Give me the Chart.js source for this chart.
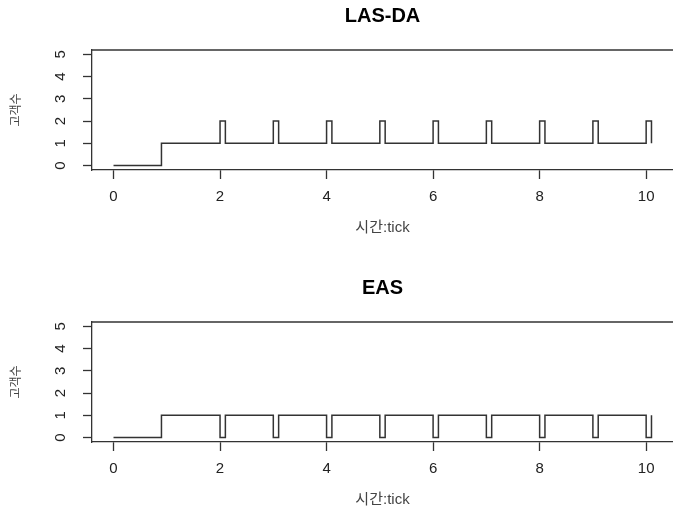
<!DOCTYPE html>
<html>
<head>
<meta charset="utf-8">
<script src="https://cdn.jsdelivr.net/npm/chart.js"></script>
<style>
  body { margin: 0; background: #fff; }
  .plot { position: absolute; left: 0; width: 673px; height: 240px; }
</style>
</head>
<body>
<div class="plot" style="top:0"><canvas id="lasda" width="673" height="240"></canvas></div>
<div class="plot" style="top:272px"><canvas id="eas" width="673" height="240"></canvas></div>
<script>
// time (tick) at which the count changes
var timeTicks = [0, 0.9, 2.0, 2.1, 3.0, 3.1, 4.0, 4.1, 5.0, 5.1, 6.0, 6.1, 7.0, 7.1, 8.0, 8.1, 9.0, 9.1, 10.0, 10.1];
var lasdaCount = [0, 1, 2, 1, 2, 1, 2, 1, 2, 1, 2, 1, 2, 1, 2, 1, 2, 1, 2, 1];
var easCount   = [0, 1, 0, 1, 0, 1, 0, 1, 0, 1, 0, 1, 0, 1, 0, 1, 0, 1, 0, 1];
var xTicks = [0, 2, 4, 6, 8, 10];
var yTicks = [0, 1, 2, 3, 4, 5];

var ink = '#333';
var fontFamily = '"Liberation Sans", Arial, "Noto Sans CJK KR", sans-serif';

// R draws a box round the plot; the axes give left and bottom, this gives the top
var topLine = {
    id: 'topLine',
    afterDraw: function (chart) {
        var a = chart.chartArea, ctx = chart.ctx;
        ctx.save();
        ctx.strokeStyle = ink;
        ctx.lineWidth = 1.3;
        ctx.beginPath();
        ctx.moveTo(a.left, a.top);
        ctx.lineTo(a.right, a.top);
        ctx.stroke();
        ctx.restore();
    }
};

function makePlot(id, title, counts) {
    var pts = timeTicks.map(function (t, i) { return { x: t, y: counts[i] }; });

    return new Chart(document.getElementById(id), {
        type: 'line',
        data: {
            datasets: [{
                data: pts,
                borderColor: ink,
                borderWidth: 1.5,
                pointRadius: 0,
                stepped: 'before',
                fill: false
            }]
        },
        options: {
            animation: false,
            responsive: false,
            layout: { padding: { left: 0, right: -6, top: 0, bottom: 0 } },
            plugins: {
                legend: { display: false },
                tooltip: { enabled: false },
                title: {
                    display: true,
                    text: title,
                    fullSize: false,
                    color: '#000',
                    font: { family: fontFamily, size: 20, weight: 'bold' },
                    padding: { top: 4, bottom: 22 }
                }
            },
            scales: {
                x: {
                    type: 'linear',
                    min: -0.404,
                    max: 10.504,
                    afterBuildTicks: function (s) { s.ticks = xTicks.map(function (v) { return { value: v }; }); },
                    afterFit: function (s) { s.height = 70; },
                    grid: { drawOnChartArea: false, tickLength: 9, tickColor: ink, tickWidth: 1.3 },
                    border: { color: ink, width: 1.3 },
                    ticks: {
                        maxRotation: 0,
                        padding: 8.8,
                        color: '#222',
                        font: { family: fontFamily, size: 15 }
                    },
                    title: {
                        display: true,
                        text: '시간:tick',
                        color: '#444',
                        font: { family: fontFamily, size: 15 },
                        padding: { top: 0, bottom: 3 }
                    }
                },
                y: {
                    min: -0.2,
                    max: 5.2,
                    afterBuildTicks: function (s) { s.ticks = yTicks.map(function (v) { return { value: v }; }); },
                    afterFit: function (s) { s.width = 92; },
                    grid: { drawOnChartArea: false, tickLength: 9, tickColor: ink, tickWidth: 1.3 },
                    border: { color: ink, width: 1.3 },
                    ticks: {
                        minRotation: 90,
                        maxRotation: 90,
                        padding: 22,
                        labelOffset: -4.2,
                        color: '#222',
                        font: { family: fontFamily, size: 15 }
                    },
                    title: {
                        display: true,
                        text: '고객수',
                        color: '#444',
                        font: { family: fontFamily, size: 12 },
                        padding: { top: 9.5, bottom: 0 }
                    }
                }
            }
        },
        plugins: [topLine]
    });
}

makePlot('lasda', 'LAS-DA', lasdaCount);
makePlot('eas', 'EAS', easCount);
</script>
</body>
</html>
